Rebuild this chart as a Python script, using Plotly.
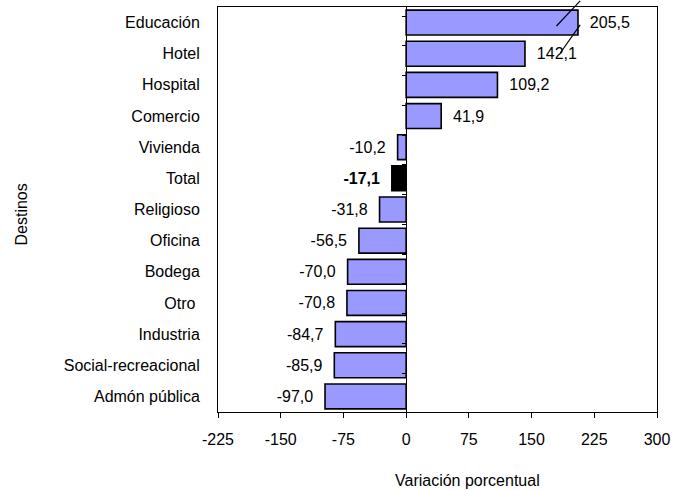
import plotly.graph_objects as go

categories = ["Educación", "Hotel", "Hospital", "Comercio", "Vivienda", "Total",
              "Religioso", "Oficina", "Bodega", "Otro ", "Industria",
              "Social-recreacional", "Admón pública"]
values = [205.5, 142.1, 109.2, 41.9, -10.2, -17.1, -31.8, -56.5, -70.0, -70.8,
          -84.7, -85.9, -97.0]
tick_vals = [-225, -150, -75, 0, 75, 150, 225, 300]
tick_labels = ["-225", "-150", "-75", "0", "75", "150", "225", "300"]

BAR = "#9999FF"
FONT = "Arial, Liberation Sans, sans-serif"
NB = "\u00a0"

colors = ["#000000" if c == "Total" else BAR for c in categories]
texts = []
for c, v in zip(categories, values):
    s = f"{v:.1f}".replace(".", ",")
    if c == "Total":
        s = f"<b>{s}</b>"
    s = (NB * 2 + s) if v > 0 else (s + NB * 2)
    texts.append(s)

fig = go.Figure()
fig.add_trace(go.Bar(
    x=values, y=categories, orientation="h",
    marker=dict(color=colors, line=dict(color="#000000", width=1.6)),
    text=texts, textposition="outside", cliponaxis=False,
    textfont=dict(family=FONT, size=16, color="#000000"),
    hoverinfo="skip",
))
# invisible helper trace for the zero-position category axis
fig.add_trace(go.Scatter(
    x=[0] * len(categories), y=categories, yaxis="y2", mode="markers",
    marker=dict(opacity=0), hoverinfo="skip", showlegend=False,
))

fig.update_layout(
    width=676, height=490,
    margin=dict(l=218, r=17, t=6, b=78),
    paper_bgcolor="white", plot_bgcolor="white",
    showlegend=False,
    bargap=0.2,
    font=dict(family=FONT, size=16, color="#000000"),
    xaxis=dict(
        range=[-225, 300], tickvals=tick_vals, ticktext=tick_labels,
        ticks="outside", ticklen=5, tickcolor="#000000",
        showline=True, linecolor="#000000", linewidth=1, mirror=True,
        showgrid=False, zeroline=False,
        tickfont=dict(family=FONT, size=16, color="#000000"),
        ticklabelstandoff=8,
    ),
    yaxis=dict(
        type="category", categoryorder="array", categoryarray=categories,
        autorange="reversed",
        showline=True, linecolor="#000000", linewidth=1, mirror=True,
        showgrid=False, zeroline=False, ticks="",
        tickfont=dict(family=FONT, size=16, color="#000000"),
        ticklabelstandoff=14,
    ),
    yaxis2=dict(
        type="category", categoryorder="array", categoryarray=categories,
        autorange="reversed", overlaying="y", anchor="free",
        position=225 / 525, side="left",
        showticklabels=False, ticks="outside", ticklen=4, tickson="boundaries",
        tickcolor="#000000", showline=True, linecolor="#000000", linewidth=1,
        showgrid=False, zeroline=False,
    ),
    annotations=[
        dict(text="Destinos", x=0, y=0.5, xref="paper", yref="paper",
             xanchor="center", yanchor="middle", xshift=-197, yshift=-5,
             textangle=-90,
             showarrow=False, font=dict(family=FONT, size=16, color="#000000")),
        dict(text="Variación porcentual", x=0.569, y=0, xref="paper", yref="paper",
             xanchor="center", yanchor="middle", yshift=-68,
             showarrow=False, font=dict(family=FONT, size=16, color="#000000")),
    ],
    shapes=[
        dict(type="line", xref="paper", yref="paper", x0=0.771, y0=0.953,
             x1=0.825, y1=1.015, line=dict(color="#000000", width=1.2)),
        dict(type="line", xref="paper", yref="paper", x0=0.780, y0=0.887,
             x1=0.825, y1=0.956, line=dict(color="#000000", width=1.2)),
    ],
)

fig.write_html("out.html", config={"displayModeBar": False},
               post_script="document.body.style.margin='0';")
